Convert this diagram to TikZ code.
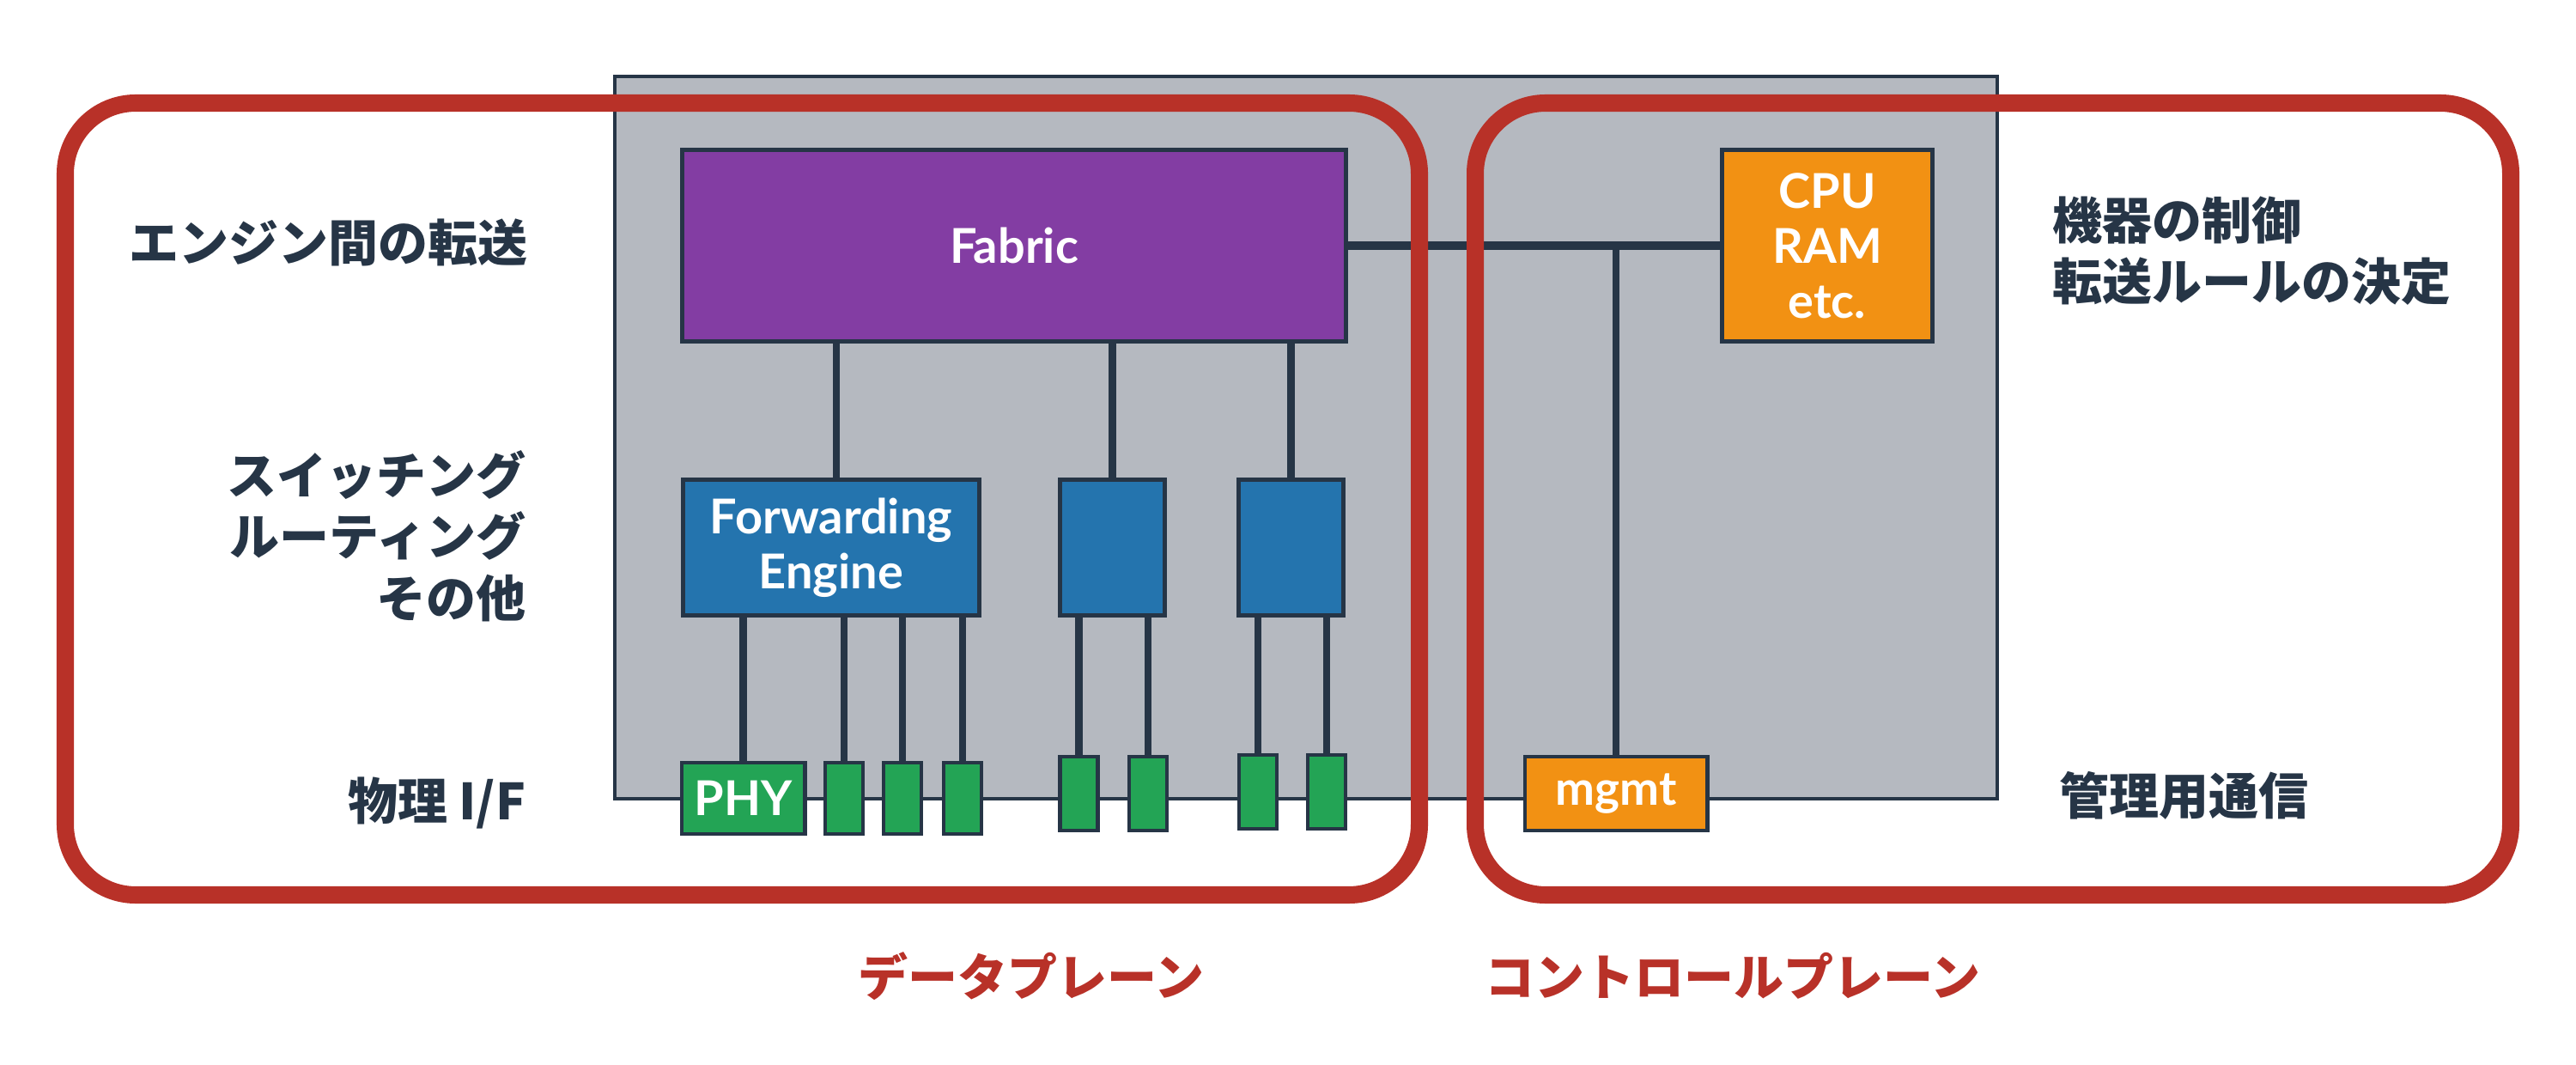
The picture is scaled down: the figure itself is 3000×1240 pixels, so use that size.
\documentclass[tikz,border=0pt]{standalone}
\usepackage{fontspec}
\newfontfamily\jp{Noto Sans CJK JP}
\newfontfamily\lat{Lato}
\definecolor{navy}{RGB}{38,53,70}
\definecolor{grayfill}{RGB}{181,185,192}
\definecolor{redc}{RGB}{184,49,40}
\definecolor{purp}{RGB}{131,61,163}
\definecolor{bluec}{RGB}{36,116,174}
\definecolor{orangec}{RGB}{242,145,19}
\definecolor{greenc}{RGB}{35,164,85}
\tikzset{
  box/.style={draw=navy, line width=1.4pt, inner sep=0pt, text=white,
    font=\lat\bfseries\fontsize{15.9}{18.2}\selectfont, align=center},
  fabricbox/.style={box, fill=purp, minimum width=7.72cm, minimum height=2.22cm},
  febox/.style={box, fill=bluec, minimum height=1.58cm},
  grbox/.style={box, fill=greenc},
  orbox/.style={box, fill=orangec},
  link/.style={draw=navy, line width=2.4pt},
  bus/.style={draw=navy, line width=2.9pt},
  frame/.style={draw=redc, line width=5.7pt, rounded corners=0.82cm},
  lbl/.style={text=navy, font=\jp\bfseries\fontsize{16.5}{20.3}\selectfont, inner sep=0pt},
  plane/.style={text=redc, font=\jp\bfseries\fontsize{16.5}{20.3}\selectfont, inner sep=0pt}
}
\begin{document}
\begin{tikzpicture}[x=0.01cm,y=-0.01cm]
\useasboundingbox (0,0) rectangle (3000,1240);
% chassis
\fill[grayfill, draw=navy, line width=1.1pt] (716,89) rectangle (2326,930);

% nodes
\node[fabricbox] (fabric) at (1181,286) {Fabric};
\node[febox, minimum width=3.45cm] (fe) at (968,637.5) {Forwarding\\Engine};
\node[febox, minimum width=1.22cm] (fe2) at (1295.5,637.5) {};
\node[febox, minimum width=1.22cm] (fe3) at (1503.5,637.5) {};
\node[orbox, minimum width=2.44cm, minimum height=2.22cm] (cpu) at (2128,286) {CPU\\RAM\\etc.};

\node[grbox, minimum width=1.43cm, minimum height=0.83cm] (phy) at (865.5,929.5) {PHY};
\node[grbox, minimum width=0.44cm, minimum height=0.83cm] (g1) at (983,929.5) {};
\node[grbox, minimum width=0.44cm, minimum height=0.83cm] (g2) at (1051,929.5) {};
\node[grbox, minimum width=0.44cm, minimum height=0.83cm] (g3) at (1121,929.5) {};
\node[grbox, minimum width=0.44cm, minimum height=0.86cm] (g4) at (1256.5,924) {};
\node[grbox, minimum width=0.44cm, minimum height=0.86cm] (g5) at (1337,924) {};
\node[grbox, minimum width=0.44cm, minimum height=0.86cm] (g6) at (1465,922) {};
\node[grbox, minimum width=0.44cm, minimum height=0.86cm] (g7) at (1545,922) {};
\node[orbox, minimum width=2.12cm, minimum height=0.86cm, font=\lat\bfseries\fontsize{15.6}{18}\selectfont] (mgmt) at (1882,924) {mgmt};

% connectors
\draw[link] ([xshift=0.06cm]fe.north) -- ([xshift=0.06cm]fe.north |- fabric.south);
\draw[link] (fe2.north) -- (fe2.north |- fabric.south);
\draw[link] (fe3.north) -- (fe3.north |- fabric.south);
\draw[link] (phy.north) -- (phy.north |- fe.south);
\draw[link] (g1.north) -- (g1.north |- fe.south);
\draw[link] (g2.north) -- (g2.north |- fe.south);
\draw[link] (g3.north) -- (g3.north |- fe.south);
\draw[link] (g4.north) -- (g4.north |- fe2.south);
\draw[link] (g5.north) -- (g5.north |- fe2.south);
\draw[link] (g6.north) -- (g6.north |- fe3.south);
\draw[link] (g7.north) -- (g7.north |- fe3.south);
\draw[bus] (fabric.east) -- (cpu.west);
\draw[link] (mgmt.north) -- (mgmt.north |- fabric.east);

% frames
\draw[frame] (76,120) rectangle (1653,1042);
\draw[frame] (1718,120) rectangle (2924,1042);

% labels
\node[lbl, anchor=east] (l1) at (615,282) {エンジン間の転送};
\node[lbl, anchor=east, align=right] (l2) at (613,624) {スイッチング\\ルーティング\\その他};
\node[lbl, anchor=east] (l3) at (613,935) {物理 I/F};
\node[lbl, anchor=west, align=left] (r1) at (2390,292) {機器の制御\\転送ルールの決定};
\node[lbl, anchor=west] (r2) at (2398,926) {管理用通信};
\node[plane] (dp) at (1201,1137) {データプレーン};
\node[plane] (cp) at (2018,1136) {コントロールプレーン};
\end{tikzpicture}
\end{document}
